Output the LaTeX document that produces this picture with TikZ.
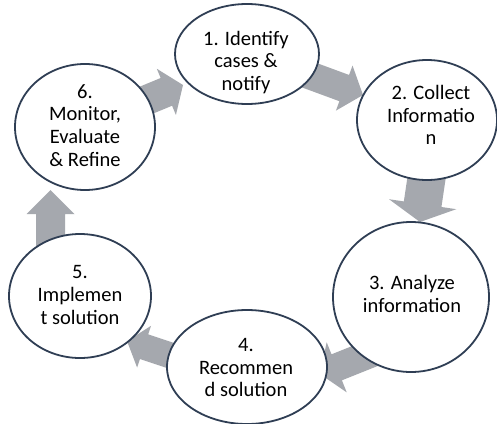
\documentclass[tikz,border=0pt]{standalone}
\usepackage{fontspec}
\setmainfont{Carlito}
\usetikzlibrary{shapes.geometric,calc}
\definecolor{ringblue}{RGB}{47,62,84}
\definecolor{arrowgray}{RGB}{165,168,174}
\tikzset{
  stage/.style={ellipse, draw=ringblue, line width=1.8pt, fill=white, inner sep=0pt},
  stagetext/.style={align=center, font=\fontsize{20.5}{22.7}\selectfont, inner sep=0pt},
}
% #1 name, #2 tail, #3 tip, #4 shaft half width, #5 head half width, #6 head length
\newcommand{\blockarrow}[6]{%
  \coordinate (#1-b) at ($(#3)!#6!(#2)$);
  \fill[arrowgray] ($(#2)!#4!90:(#3)$) -- ($(#1-b)!#4!90:(#3)$) -- ($(#1-b)!#5!90:(#3)$)
    -- (#3) -- ($(#1-b)!#5!-90:(#3)$) -- ($(#1-b)!#4!-90:(#3)$) -- ($(#2)!#4!-90:(#3)$) -- cycle;
}
\begin{document}
\begin{tikzpicture}[x=1pt,y=-1pt]
\useasboundingbox (0,0) rectangle (497,423);
\fill[white] (0,0) rectangle (497,423);
% arrow anchors
\coordinate (a1t) at (137,104);  \coordinate (a1p) at (183,85);
\coordinate (a2t) at (306,74);   \coordinate (a2p) at (363,95);
\coordinate (a3t) at (428,168);  \coordinate (a3p) at (420,222);
\coordinate (a4t) at (184,360);  \coordinate (a4p) at (127,341);
\coordinate (a5t) at (50.5,248); \coordinate (a5p) at (50.5,190);
\coordinate (a6t) at (380,350);  \coordinate (a6p) at (320,374);
\blockarrow{A1}{a1t}{a1p}{15pt}{25pt}{18pt}
\blockarrow{A2}{a2t}{a2p}{14pt}{24pt}{20pt}
\blockarrow{A3}{a3t}{a3p}{19pt}{34pt}{18pt}
\blockarrow{A4}{a4t}{a4p}{13pt}{22pt}{18pt}
\blockarrow{A5}{a5t}{a5p}{14.5pt}{24pt}{24pt}
\blockarrow{A6}{a6t}{a6p}{14pt}{27pt}{18pt}
% stages
\node[stage, minimum width=144pt, minimum height=100pt] (s1) at (247,54) {};
\node[stage, minimum width=140pt, minimum height=120pt] (s2) at (427,120) {};
\node[stage, minimum width=156pt, minimum height=150pt] (s3) at (411,297) {};
\node[stage, minimum width=160pt, minimum height=114pt] (s4) at (247,367) {};
\node[stage, minimum width=142pt, minimum height=124pt] (s5) at (80,296) {};
\node[stage, minimum width=140pt, minimum height=126pt] (s6) at (85,127) {};
% texts
\node[stagetext] (t1) at (246,62.5) {1. Identify\\cases \&\\notify};
\node[stagetext] (t2) at (431,115) {2. Collect\\Informatio\\n};
\node[stagetext] (t3) at (412,294) {3. Analyze\\information};
\node[stagetext] (t4) at (246,367.5) {4.\\Recommen\\d solution};
\node[stagetext] (t5) at (80,295) {5.\\Implemen\\t solution};
\node[stagetext] (t6) at (85,125.5) {6.\\Monitor,\\Evaluate\\\& Refine};
\end{tikzpicture}
\end{document}
